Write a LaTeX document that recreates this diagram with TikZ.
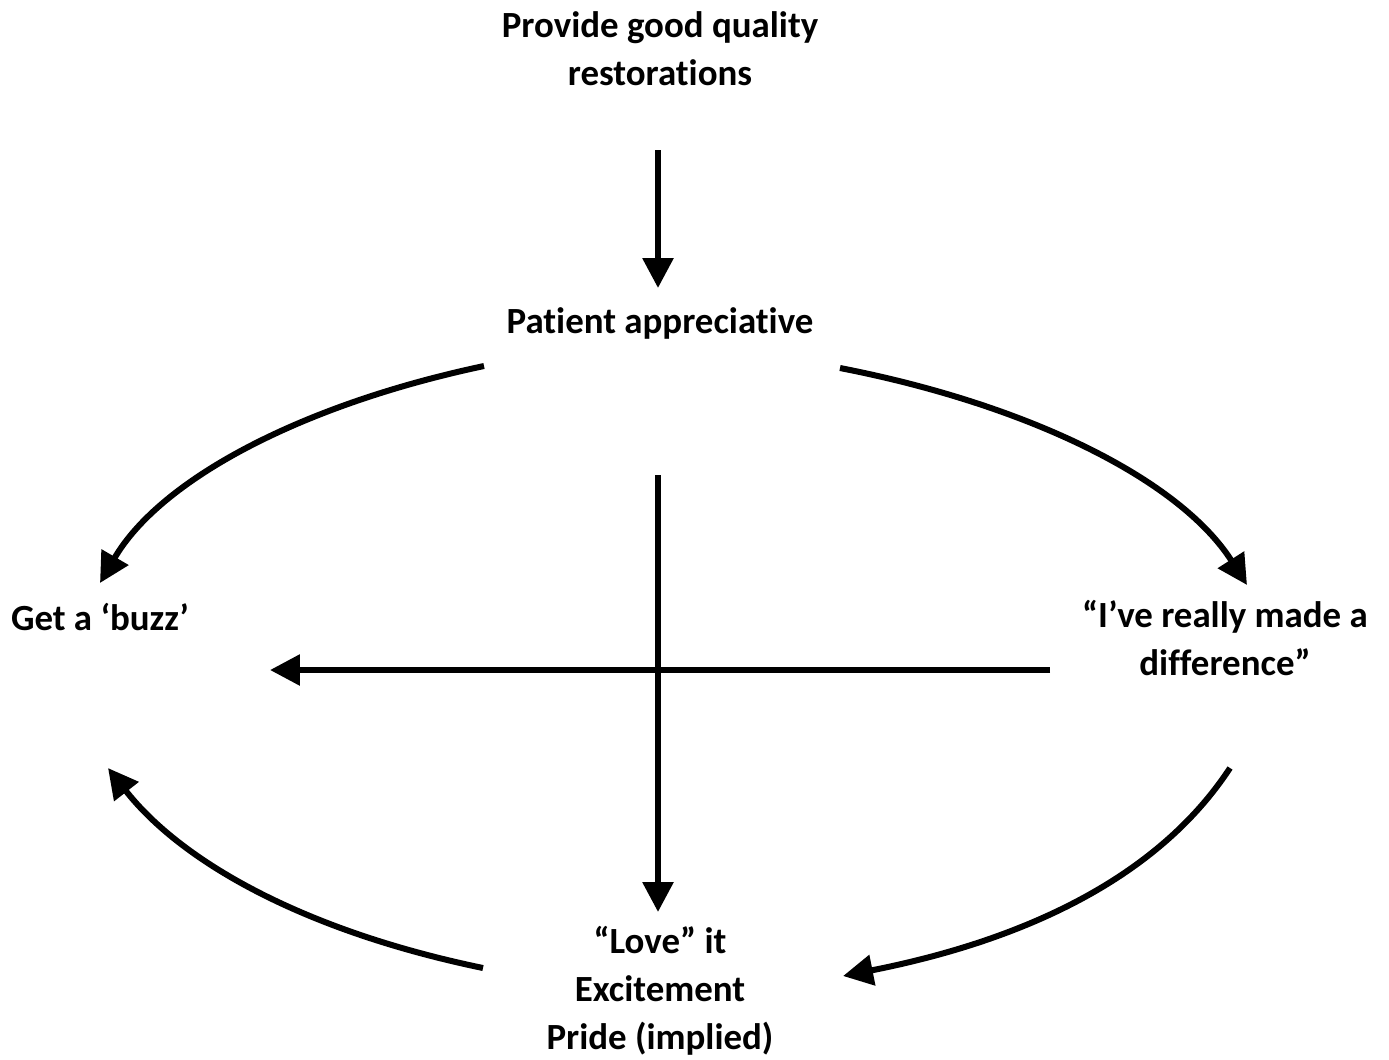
\documentclass[tikz,border=0pt]{standalone}
\usepackage{fontspec}
\setmainfont{Carlito}[Ligatures=CommonOff]
\usepackage{tikz}
\usetikzlibrary{positioning, arrows.meta}

\tikzset{
    lbl/.style={font=\fontsize{21}{27.3}\selectfont\bfseries, align=center, inner sep=0pt},
    flow/.style={-{Triangle[length=0.6cm, width=0.6cm]}, line width=0.12cm},
}

\begin{document}
\begin{tikzpicture}[x=0.02cm, y=-0.02cm]
    \useasboundingbox (0, 0) rectangle (1389, 1059);

    \node[lbl] (quality) at (660, 49) {Provide good quality\\restorations};
    \node[lbl] (patient) at (660, 323) {Patient appreciative};
    \node[lbl] (buzz) at (100, 617) {Get a ‘buzz’};
    \node[lbl] (diff) at (1225, 638) {“I’ve really made a\\difference”};
    \node[lbl] (love) at (660, 991) {“Love” it\\Excitement\\Pride (implied)};

    % arrow ends
    \coordinate (q-out) at (658, 150);
    \coordinate (p-in) at (658, 288);
    \coordinate (p-left) at (484, 366);
    \coordinate (b-top) at (100, 583);
    \coordinate (p-right) at (840, 368);
    \coordinate (d-top) at (1247, 585);
    \coordinate (d-left) at (1050, 670);
    \coordinate (b-right) at (270, 670);
    \coordinate (p-down) at (658, 475);
    \coordinate (l-top) at (658, 912);
    \coordinate (d-bot) at (1230, 768);
    \coordinate (l-right) at (843, 976);
    \coordinate (l-left) at (483, 968);
    \coordinate (b-bot) at (108, 768);

    \draw[flow] (q-out) -- (p-in);
    \draw[flow] (p-left) .. controls (300, 405) and (160, 480) .. (b-top);
    \draw[flow] (p-right) .. controls (1030, 405) and (1180, 480) .. (d-top);
    \draw[flow] (d-left) -- (b-right);
    \draw[flow] (p-down) -- (l-top);
    \draw[flow] (d-bot) .. controls (1150, 890) and (1000, 945) .. (l-right);
    \draw[flow] (l-left) .. controls (300, 930) and (180, 860) .. (b-bot);
\end{tikzpicture}
\end{document}
